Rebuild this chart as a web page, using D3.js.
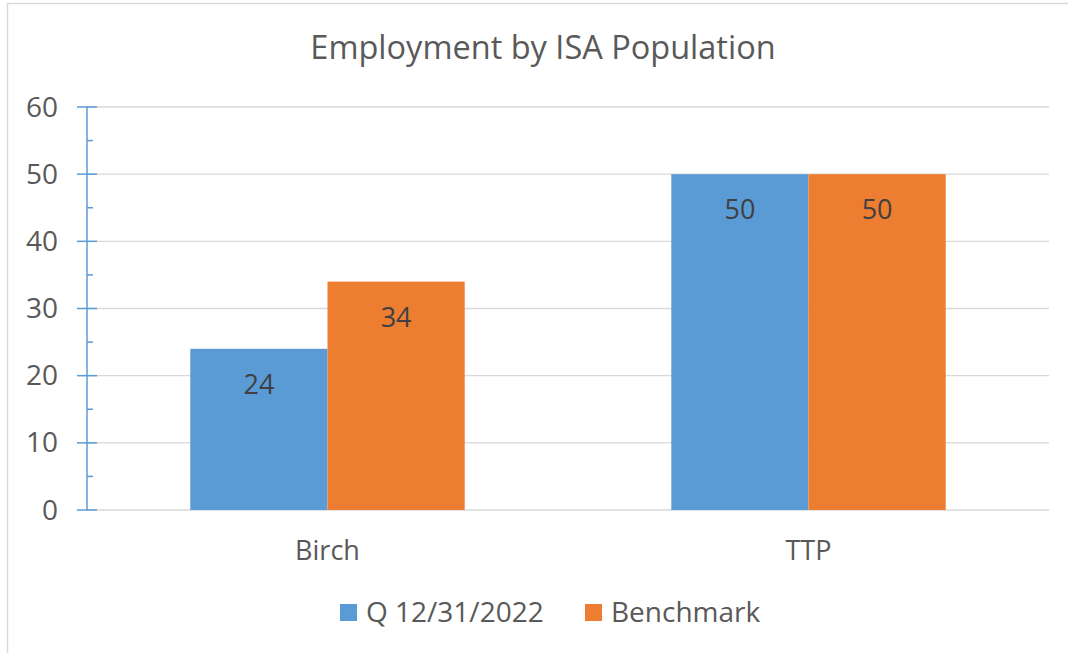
<!DOCTYPE html>
<html><head><meta charset="utf-8">
<script src="https://cdn.jsdelivr.net/npm/d3@7"></script>
<style>body{margin:0;background:#fff}svg{display:block}</style>
</head><body>
<script>
const categories = ["Birch", "TTP"];
const seriesNames = ["Q 12/31/2022", "Benchmark"];
const q2022 = [24, 50];
const benchmark = [34, 50];
const yTicks = [0, 10, 20, 30, 40, 50, 60];
const colors = ["#5b9bd5", "#ed7d31"];
const title = "Employment by ISA Population";

const W = 1068, H = 653;
const font = "'Open Sans', 'Liberation Sans', sans-serif";
const svg = d3.select("body").append("svg").attr("width", W).attr("height", H);

// chart border
svg.append("rect").attr("x", 7.5).attr("y", 3.5).attr("width", W + 10).attr("height", H + 10)
  .attr("fill", "#fff").attr("stroke", "#d9d9d9").attr("stroke-width", 1.5);

const m = {left: 87, right: 1049, top: 107, bottom: 510};
const x0 = d3.scaleBand().domain(categories).range([m.left, m.right]).paddingInner(0).paddingOuter(0);
const x1 = d3.scaleBand().domain(seriesNames).range([0, x0.bandwidth()]).paddingInner(0).paddingOuter(0.7528);
const y = d3.scaleLinear().domain([0, 60]).range([m.bottom, m.top]);

// gridlines
svg.append("g").selectAll("line").data(yTicks).join("line")
  .attr("x1", m.left).attr("x2", m.right)
  .attr("y1", d => y(d)).attr("y2", d => y(d))
  .attr("stroke", "#d9d9d9").attr("stroke-width", 1.3);

// bars
const data = categories.map((c, i) => ({c, vals: [q2022[i], benchmark[i]]}));
const g = svg.append("g");
data.forEach(d => {
  d.vals.forEach((v, j) => {
    const bx = x0(d.c) + x1(seriesNames[j]);
    g.append("rect").attr("x", bx).attr("y", y(v)).attr("width", x1.bandwidth()).attr("height", y(0) - y(v))
      .attr("fill", colors[j]);
    g.append("text").attr("x", bx + x1.bandwidth() / 2).attr("y", y(v) + 45)
      .attr("text-anchor", "middle").attr("font-family", font).attr("font-size", 27)
      .attr("fill", "#404040").text(v);
  });
});

// y axis
const yAxisG = svg.append("g").attr("transform", `translate(${m.left},0)`);
yAxisG.append("line").attr("x1", 0).attr("x2", 0).attr("y1", y(60)).attr("y2", y(0))
  .attr("stroke", "#5b9bd5").attr("stroke-width", 1.5);
const minor = d3.range(5, 60, 10);
yAxisG.selectAll(".mj").data(yTicks).join("line")
  .attr("x1", -10).attr("x2", 10).attr("y1", d => y(d)).attr("y2", d => y(d))
  .attr("stroke", "#5b9bd5").attr("stroke-width", 1.5);
yAxisG.selectAll(".mn").data(minor).join("line")
  .attr("x1", 0).attr("x2", 6).attr("y1", d => y(d)).attr("y2", d => y(d))
  .attr("stroke", "#5b9bd5").attr("stroke-width", 1.5);
yAxisG.selectAll("text").data(yTicks).join("text")
  .attr("x", -29).attr("y", d => y(d) + 9.5).attr("text-anchor", "end")
  .attr("font-family", font).attr("font-size", 28).attr("fill", "#595959").text(d => d);

// x labels
svg.append("g").selectAll("text").data(categories).join("text")
  .attr("x", d => x0(d) + x0.bandwidth() / 2).attr("y", 560).attr("text-anchor", "middle")
  .attr("font-family", font).attr("font-size", 27).attr("fill", "#595959").text(d => d);

// title
svg.append("text").attr("x", 543).attr("y", 59).attr("text-anchor", "middle")
  .attr("font-family", font).attr("font-size", 32.5).attr("fill", "#595959").text(title);

// legend
const legX = [340, 585];
const lg = svg.append("g");
seriesNames.forEach((s, i) => {
  lg.append("rect").attr("x", legX[i]).attr("y", 604).attr("width", 17).attr("height", 17).attr("fill", colors[i]);
  lg.append("text").attr("x", legX[i] + 26).attr("y", 622).attr("font-family", font).attr("font-size", 28)
    .attr("fill", "#595959").text(s);
});
</script>
</body></html>
